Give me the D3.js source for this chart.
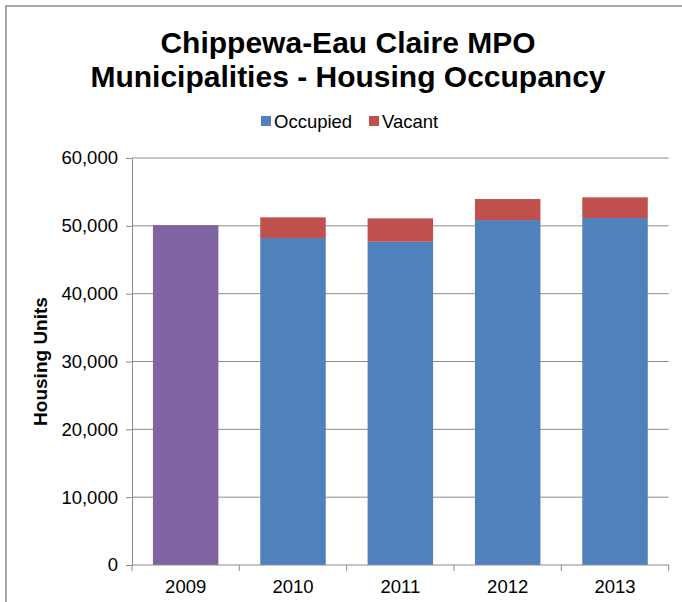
<!DOCTYPE html>
<html>
<head>
<meta charset="utf-8">
<script src="https://cdn.jsdelivr.net/npm/d3@7"></script>
<style>
  body { margin: 0; background: #fff; }
  svg { display: block; font-family: "Liberation Sans", Arial, sans-serif; }
</style>
</head>
<body>
<div class="chart"></div>
<script>
const years = ['2009', '2010', '2011', '2012', '2013'];
// 2009 only has a total count (no occupied/vacant split)
const total2009 = [50100, 0, 0, 0, 0];
const occupied = [0, 48200, 47650, 50850, 51150];
const vacant = [0, 3050, 3450, 3100, 3050];
const yTicks = [0, 10000, 20000, 30000, 40000, 50000, 60000];

const w = 682, h = 602;
const padL = 132, padR = 668.7, padT = 158, padB = 565;
const fontSize = 18.5;

const svg = d3.select('div.chart')
  .append('svg')
  .attr('width', w)
  .attr('height', h);

// chart frame
svg.append('path')
  .attr('d', 'M6,' + h + ' L6,6 L' + w + ',6')
  .attr('fill', 'none')
  .attr('stroke', '#8c8c8c')
  .attr('stroke-width', 1.5);

// title
const title = svg.append('text')
  .attr('text-anchor', 'middle')
  .attr('font-weight', 'bold')
  .attr('font-size', 30)
  .attr('fill', '#000');
title.append('tspan').attr('x', 348).attr('y', 53).text('Chippewa-Eau Claire MPO');
title.append('tspan').attr('x', 348).attr('y', 87).text('Municipalities - Housing Occupancy');

const xScale = d3.scaleBand()
  .domain(years)
  .range([padL, padR])
  .paddingInner(0.39)
  .paddingOuter(0.195);

const yScale = d3.scaleLinear()
  .domain([0, 60000])
  .range([padB, padT]);

// gridlines
svg.append('g')
  .selectAll('line')
  .data(yTicks.slice(1))
  .enter()
  .append('line')
  .attr('x1', padL)
  .attr('x2', padR)
  .attr('y1', d => yScale(d))
  .attr('y2', d => yScale(d))
  .attr('stroke', '#8c8c8c')
  .attr('stroke-width', 1);

// stacked bars
const rows = years.map((y, i) => ({year: y, total: total2009[i], occupied: occupied[i], vacant: vacant[i]}));
const keys = ['total', 'occupied', 'vacant'];
const colors = {total: '#8064A2', occupied: '#4F81BD', vacant: '#C0504D'};
const stacked = d3.stack().keys(keys)(rows);

svg.append('g')
  .selectAll('g')
  .data(stacked)
  .enter()
  .append('g')
  .attr('fill', d => colors[d.key])
  .selectAll('rect')
  .data(d => d.filter(s => s[1] > s[0]))
  .enter()
  .append('rect')
  .attr('x', d => xScale(d.data.year))
  .attr('width', xScale.bandwidth())
  .attr('y', d => yScale(d[1]))
  .attr('height', d => yScale(d[0]) - yScale(d[1]));

// axes
const yAxis = d3.axisLeft(yScale)
  .tickValues(yTicks)
  .tickFormat(d3.format(','))
  .tickSize(6)
  .tickSizeOuter(0)
  .tickPadding(8);

const gy = svg.append('g')
  .attr('transform', 'translate(' + padL + ',0)')
  .call(yAxis);
gy.selectAll('text').attr('font-size', fontSize).attr('fill', '#000').attr('font-family', '"Liberation Sans", Arial, sans-serif');
gy.selectAll('line, path').attr('stroke', '#8c8c8c');

const xAxis = d3.axisBottom(xScale).tickSize(0).tickPadding(15);
const gx = svg.append('g')
  .attr('transform', 'translate(0,' + padB + ')')
  .call(xAxis);
gx.select('path').attr('d', 'M' + padL + ',0H' + padR).attr('stroke', '#8c8c8c');
gx.selectAll('text').attr('font-size', fontSize).attr('fill', '#000').attr('font-family', '"Liberation Sans", Arial, sans-serif');

// x tick marks at band boundaries
const step = xScale.step();
svg.append('g')
  .selectAll('line')
  .data(d3.range(years.length + 1))
  .enter()
  .append('line')
  .attr('x1', i => padL + i * step)
  .attr('x2', i => padL + i * step)
  .attr('y1', padB)
  .attr('y2', padB + 6)
  .attr('stroke', '#8c8c8c');

// y axis title
svg.append('text')
  .attr('transform', 'translate(47,' + ((padT + padB) / 2) + ') rotate(-90)')
  .attr('text-anchor', 'middle')
  .attr('font-weight', 'bold')
  .attr('font-size', 19)
  .text('Housing Units');

// legend
const legend = [{key: 'occupied', label: 'Occupied', x: 261}, {key: 'vacant', label: 'Vacant', x: 369}];
const lg = svg.append('g').selectAll('g').data(legend).enter().append('g');
lg.append('rect')
  .attr('x', d => d.x)
  .attr('y', 116)
  .attr('width', 10)
  .attr('height', 10)
  .attr('fill', d => colors[d.key]);
lg.append('text')
  .attr('x', d => d.x + 13)
  .attr('y', 127.5)
  .attr('font-size', fontSize)
  .text(d => d.label);
</script>
</body>
</html>
